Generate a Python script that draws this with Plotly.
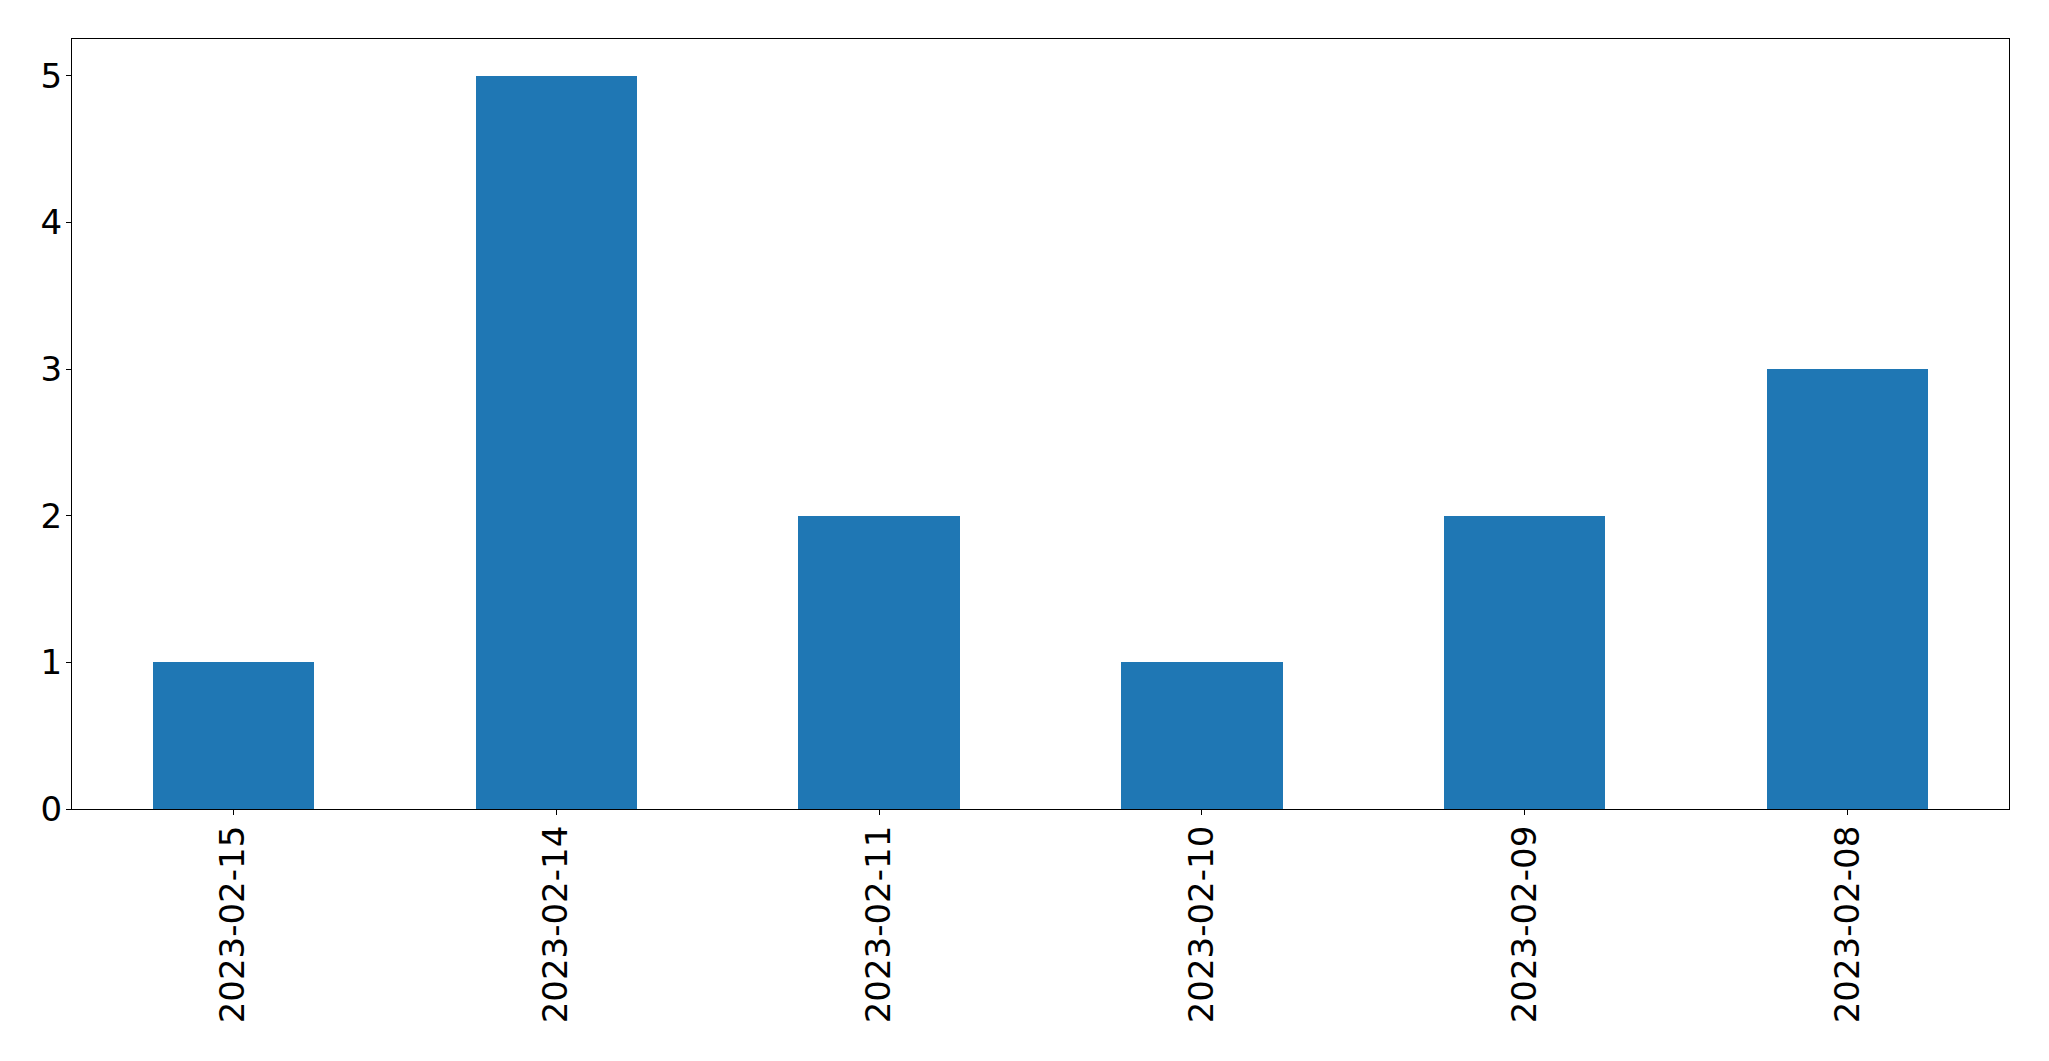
import plotly.graph_objects as go

categories = ["2023-02-15", "2023-02-14", "2023-02-11", "2023-02-10", "2023-02-09", "2023-02-08"]
values = [1, 5, 2, 1, 2, 3]
y_ticks = [0, 1, 2, 3, 4, 5]

fig = go.Figure(go.Bar(x=categories, y=values, width=0.5, marker=dict(color="#1f77b4", line=dict(width=0))))

axis_common = dict(
    showline=True, linecolor="black", linewidth=1.3, mirror=True,
    ticks="outside", ticklen=5, tickwidth=1.3, tickcolor="black",
    showgrid=False, zeroline=False,
    tickfont=dict(family="DejaVu Sans", size=34, color="black"),
)

fig.update_layout(
    width=2049, height=1061,
    margin=dict(l=64, r=48, t=31, b=260),
    plot_bgcolor="white", paper_bgcolor="white",
    showlegend=False,
    bargap=0,
    xaxis=dict(type="category", range=[-0.5, 5.5], tickangle=-90, ticklabelstandoff=-3, **axis_common),
    yaxis=dict(range=[0, 5.25], tickvals=y_ticks, ticktext=[str(v) for v in y_ticks],
               ticklabelstandoff=-3, **axis_common),
)

fig.write_html("out.html")
